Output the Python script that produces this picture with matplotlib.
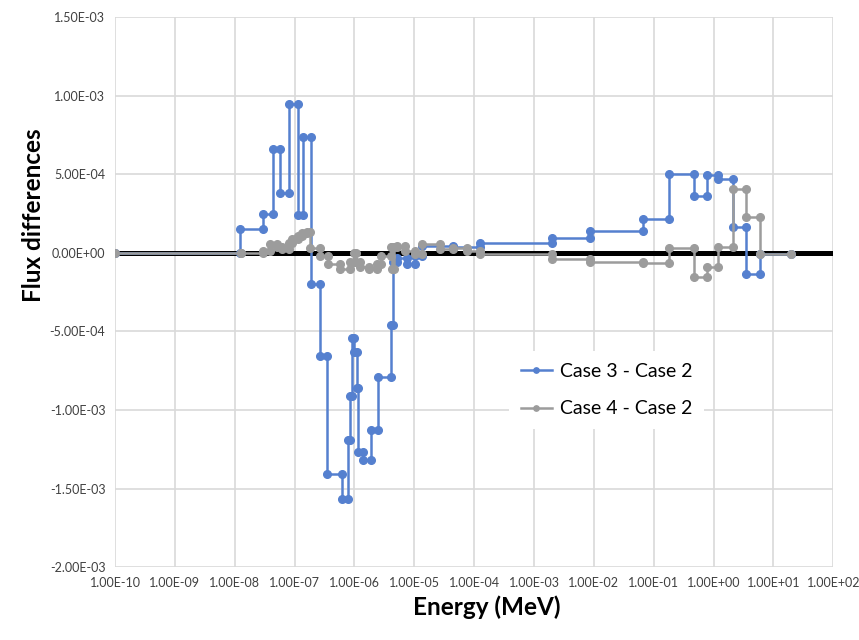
import numpy as np
import matplotlib.pyplot as plt
from matplotlib.ticker import FuncFormatter, FixedLocator

plt.rcParams['font.family'] = ['Lato', 'DejaVu Sans']

# energy group boundaries (MeV) and flux difference per group
case3_edges = [1e-10, 1.2e-8, 3.0e-8, 4.4e-8, 5.7e-8, 8.1e-8, 1.15e-7, 1.4e-7, 1.86e-7,
               2.7e-7, 3.5e-7, 6.2e-7, 7.8e-7, 8.5e-7, 9.2e-7, 1.0e-6, 1.1e-6, 1.15e-6,
               1.38e-6, 1.9e-6, 2.45e-6, 4.0e-6, 4.4e-6, 5.1e-6, 7.6e-6, 1.04e-5, 1.35e-5,
               4.5e-5, 1.27e-4, 2.0e-3, 8.7e-3, 6.6e-2, 0.177, 0.48, 0.78, 1.2, 2.1, 3.5,
               5.9, 19.5]
case3_diff = [0, 1.5e-4, 2.5e-4, 6.6e-4, 3.8e-4, 9.5e-4, 2.4e-4, 7.4e-4, -2.0e-4,
              -6.55e-4, -1.41e-3, -1.565e-3, -1.19e-3, -9.1e-4, -5.4e-4, -6.3e-4, -8.6e-4,
              -1.27e-3, -1.32e-3, -1.13e-3, -7.9e-4, -4.6e-4, -6e-5, -3e-5, -7e-5, -2e-5,
              4.5e-5, 3.5e-5, 6e-5, 9.7e-5, 1.4e-4, 2.15e-4, 5.0e-4, 3.6e-4, 4.95e-4,
              4.7e-4, 1.65e-4, -1.36e-4, -1e-5]

case4_edges = [1e-10, 1.26e-8, 3.0e-8, 3.9e-8, 5.0e-8, 6.2e-8, 8.2e-8, 9.0e-8, 1.16e-7,
               1.32e-7, 1.6e-7, 1.82e-7, 2.7e-7, 3.55e-7, 5.8e-7, 8.5e-7, 9.7e-7, 1.05e-6,
               1.25e-6, 1.72e-6, 2.4e-6, 2.8e-6, 4.0e-6, 4.3e-6, 4.6e-6, 5.1e-6, 7.0e-6,
               1.04e-5, 1.35e-5, 2.7e-5, 4.5e-5, 7.6e-5, 1.27e-4, 2.0e-3, 8.7e-3, 6.6e-2,
               0.177, 0.48, 0.78, 1.2, 2.1, 3.5, 5.9, 19.5]
case4_diff = [0, 0, 1e-5, 5.5e-5, 4e-5, 2.5e-5, 6.6e-5, 9e-5, 1.1e-4, 1.25e-4, 1.35e-4,
              3e-5, -2e-5, -7e-5, -1.04e-4, -6e-5, 0, -6e-5, -9.3e-5, -1.0e-4, -7e-5,
              -2e-5, 4e-5, -1.04e-4, 4e-5, 4.5e-5, 1.5e-5, -1e-5, 5.5e-5, 2.5e-5, 2.8e-5,
              1e-5, -8e-6, -4e-5, -6e-5, -6.5e-5, 3.4e-5, -1.53e-4, -9.3e-5, 3.8e-5,
              4.05e-4, 2.3e-4, -1e-5]

series_labels = ['Case 3 - Case 2', 'Case 4 - Case 2']
x_decades = list(range(-10, 3))
y_ticks = [-2e-3, -1.5e-3, -1e-3, -5e-4, 0, 5e-4, 1e-3, 1.5e-3]


def group_points(edges, vals):
    # each group gives two points: (lower edge, value) and (upper edge, value)
    xs, ys = [], []
    for i, v in enumerate(vals):
        xs += [edges[i], edges[i + 1]]
        ys += [v, v]
    return xs, ys


fig = plt.figure(figsize=(8.59, 6.40), dpi=100)
ax = fig.add_axes([0.134, 0.114, 0.836, 0.859])

ax.axhline(0, color='black', lw=3.6, zorder=2)

x3, y3 = group_points(case3_edges, case3_diff)
x4, y4 = group_points(case4_edges, case4_diff)
ax.plot(x3, y3, color='#5580cf', lw=1.8, marker='o', ms=5.5, label=series_labels[0], zorder=3)
ax.plot(x4, y4, color='#9c9c9c', lw=1.8, marker='o', ms=5.5, label=series_labels[1], zorder=4)

ax.set_xscale('log')
ax.set_xlim(1e-10, 1e2)
ax.set_ylim(-2e-3, 1.5e-3)
ax.xaxis.set_major_locator(FixedLocator([10.0 ** k for k in x_decades]))
ax.xaxis.set_minor_locator(FixedLocator([]))
ax.set_yticks(y_ticks)
ax.xaxis.set_major_formatter(FuncFormatter(lambda v, p: f"{v:.2E}"))
ax.yaxis.set_major_formatter(FuncFormatter(lambda v, p: f"{v:.2E}"))
ax.tick_params(length=0, labelsize=9, colors='#404040', pad=7)

ax.grid(True, color='#d9d9d9', lw=1.2, zorder=0)
ax.set_axisbelow(True)
for s in ax.spines.values():
    s.set_visible(False)

ax.set_xlabel('Energy (MeV)', fontsize=17.5, fontweight='bold')
ax.xaxis.set_label_coords(0.517, -0.052)
ax.set_ylabel('Flux differences', fontsize=17.5, fontweight='bold')
ax.yaxis.set_label_coords(-0.098, 0.64)

leg = ax.legend(loc='upper left', bbox_to_anchor=(0.535, 0.41), fontsize=14,
                frameon=True, facecolor='white', edgecolor='none', framealpha=1,
                handlelength=1.6, markerscale=0.7, labelspacing=1.05, borderpad=0.6,
                handletextpad=0.4)

fig.savefig('out.png', dpi=100)
